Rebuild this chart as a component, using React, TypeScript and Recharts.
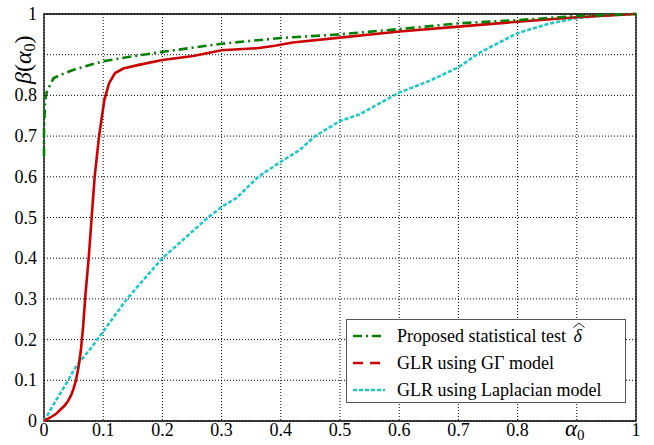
import React from "react";
import {
  CartesianGrid,
  Legend,
  Line,
  LineChart,
  ReferenceArea,
  XAxis,
  YAxis,
} from "recharts";

const tickValues = [0, 0.1, 0.2, 0.3, 0.4, 0.5, 0.6, 0.7, 0.8, 0.9, 1];
const xTickLabels = ["0", "0.1", "0.2", "0.3", "0.4", "0.5", "0.6", "0.7", "0.8", "α0", "1"];
const yTickLabels = ["0", "0.1", "0.2", "0.3", "0.4", "0.5", "0.6", "0.7", "0.8", "β(α0)", "1"];

const seriesNames = [
  "Proposed statistical test δ",
  "GLR using GΓ model",
  "GLR using Laplacian model",
];

const proposedX = [0, 0, 0.002, 0.005, 0.016, 0.027, 0.05, 0.1, 0.15, 0.2, 0.3, 0.4, 0.5, 0.6, 0.7, 0.8, 0.9, 1];
const proposedY = [0.65, 0.72, 0.79, 0.81, 0.842, 0.85, 0.863, 0.884, 0.896, 0.907, 0.927, 0.941, 0.95, 0.963, 0.977, 0.985, 0.995, 1];

const gammaX = [0, 0.01, 0.02, 0.027, 0.035, 0.041, 0.046, 0.05, 0.054, 0.058, 0.062, 0.066, 0.07, 0.0755, 0.0805, 0.0856, 0.093, 0.102, 0.11, 0.12, 0.134, 0.16, 0.2, 0.252, 0.3, 0.36, 0.39, 0.42, 0.5, 0.6, 0.7, 0.8, 0.9, 1];
const gammaY = [0, 0.008, 0.017, 0.027, 0.038, 0.05, 0.064, 0.08, 0.1, 0.13, 0.17, 0.23, 0.31, 0.4, 0.5, 0.6, 0.7, 0.789, 0.83, 0.855, 0.866, 0.875, 0.887, 0.897, 0.911, 0.916, 0.922, 0.93, 0.942, 0.957, 0.969, 0.981, 0.992, 1];

const laplaceX = [0, 0.02, 0.041, 0.05, 0.06, 0.08, 0.1, 0.14, 0.2, 0.277, 0.3, 0.325, 0.362, 0.4, 0.432, 0.458, 0.5, 0.534, 0.6, 0.65, 0.7, 0.736, 0.8, 0.85, 0.9, 0.95, 1];
const laplaceY = [0, 0.05, 0.1, 0.125, 0.145, 0.18, 0.22, 0.3, 0.4, 0.5, 0.526, 0.548, 0.6, 0.637, 0.666, 0.7, 0.737, 0.754, 0.807, 0.835, 0.869, 0.905, 0.953, 0.975, 0.99, 0.997, 1];

const toPoints = (xs: number[], ys: number[]) => xs.map((x, i) => ({ x, y: ys[i] }));

const proposedData = toPoints(proposedX, proposedY);
const gammaData = toPoints(gammaX, gammaY);
const laplaceData = toPoints(laplaceX, laplaceY);

const FONT = "Liberation Serif, Times New Roman, Times, DejaVu Serif, Noto Serif, serif";
const textStyle = { fontFamily: FONT };

const colors = ["#008000", "#cc0000", "#1ec8c8"];
const dashes = ["9 4 2 4", "", "4 2"];
const legendDashes = ["9 4 2 4", "10 7", "4 2"];

function labelFor(v: number, labels: string[]) {
  const i = tickValues.findIndex((t) => Math.abs(t - v) < 1e-6);
  return i >= 0 ? labels[i] : String(v);
}

function XTick(props: any) {
  const { x, y, payload } = props;
  const label = labelFor(payload.value, xTickLabels);
  if (label === "α0") {
    return (
      <text x={x - 2} y={y + 15} textAnchor="middle" style={textStyle} fontSize={23} fill="#000">
        <tspan fontStyle="italic">α</tspan>
        <tspan fontSize={15} dy={4}>0</tspan>
      </text>
    );
  }
  return (
    <text x={x} y={y + 15} textAnchor="middle" style={textStyle} fontSize={18} fill="#000">
      {label}
    </text>
  );
}

function YTick(props: any) {
  const { x, y, payload } = props;
  const label = labelFor(payload.value, yTickLabels);
  if (label.startsWith("β")) {
    return (
      <text
        x={0}
        y={0}
        transform={`translate(${x - 13}, ${y + 5}) rotate(-90)`}
        textAnchor="middle"
        style={textStyle}
        fontSize={24}
        fill="#000"
      >
        <tspan fontStyle="italic">β</tspan>
        <tspan>(</tspan>
        <tspan fontStyle="italic">α</tspan>
        <tspan fontSize={16} dy={4}>0</tspan>
        <tspan dy={-4}>)</tspan>
      </text>
    );
  }
  return (
    <text x={x - 7} y={y + 6} textAnchor="end" style={textStyle} fontSize={18} fill="#000">
      {label}
    </text>
  );
}

function HatDelta() {
  return (
    <span style={{ position: "relative", display: "inline-block", fontStyle: "italic", marginLeft: 3 }}>
      δ
      <svg width={12} height={6} style={{ position: "absolute", left: 0, top: -4 }}>
        <polyline points="0.5,5.5 6,1 11.5,5.5" fill="none" stroke="#000" strokeWidth={0.9} />
      </svg>
    </span>
  );
}

function LegendBox() {
  return (
    <div
      style={{
        border: "1px solid #555",
        background: "#fff",
        fontFamily: FONT,
        fontSize: 18,
        padding: "2px 0",
        boxSizing: "border-box",
        width: 280,
        height: 84,
        lineHeight: "20px",
      }}
    >
      {seriesNames.map((name, i) => (
        <div key={name} style={{ display: "flex", alignItems: "center", height: 27 }}>
          <svg width={42} height={10} style={{ marginLeft: 4, marginRight: 4 }}>
            <line
              x1={2}
              y1={5}
              x2={34}
              y2={5}
              stroke={colors[i]}
              strokeWidth={2.5}
              strokeDasharray={legendDashes[i]}
            />
          </svg>
          <span>
            {i === 0 ? (
              <>
                Proposed statistical test <HatDelta />
              </>
            ) : (
              name
            )}
          </span>
        </div>
      ))}
    </div>
  );
}

export default function App() {
  return (
    <div style={{ position: "absolute", left: 0, top: 0, background: "#fff" }}>
      <LineChart width={654} height={445} margin={{ top: 14, right: 18, left: 0, bottom: 0 }}>
        <CartesianGrid stroke="#000" strokeDasharray="1 2" strokeWidth={1} />
        <XAxis
          type="number"
          dataKey="x"
          domain={[0, 1]}
          ticks={tickValues}
          interval={0}
          height={24}
          tickSize={0}
          tickMargin={0}
          axisLine={false}
          tickLine={false}
          tick={<XTick />}
          allowDuplicatedCategory={false}
        />
        <YAxis
          type="number"
          dataKey="y"
          domain={[0, 1]}
          ticks={tickValues}
          interval={0}
          width={44}
          tickSize={0}
          tickMargin={0}
          axisLine={false}
          tickLine={false}
          tick={<YTick />}
        />
        <ReferenceArea x1={0} x2={1} y1={0} y2={1} fill="none" stroke="#000" strokeWidth={1.3} />
        <Line
          data={laplaceData}
          dataKey="y"
          name={seriesNames[2]}
          type="linear"
          stroke={colors[2]}
          strokeWidth={2.6}
          strokeDasharray={dashes[2]}
          dot={false}
          isAnimationActive={false}
        />
        <Line
          data={gammaData}
          dataKey="y"
          name={seriesNames[1]}
          type="linear"
          stroke={colors[1]}
          strokeWidth={2.6}
          dot={false}
          isAnimationActive={false}
        />
        <Line
          data={proposedData}
          dataKey="y"
          name={seriesNames[0]}
          type="linear"
          stroke={colors[0]}
          strokeWidth={2.6}
          strokeDasharray={dashes[0]}
          dot={false}
          isAnimationActive={false}
        />
        <Legend
          layout="vertical"
          align="center"
          verticalAlign="middle"
          content={<LegendBox />}
          wrapperStyle={{ left: 346, top: 319, width: 280, height: 84 }}
        />
      </LineChart>
    </div>
  );
}
